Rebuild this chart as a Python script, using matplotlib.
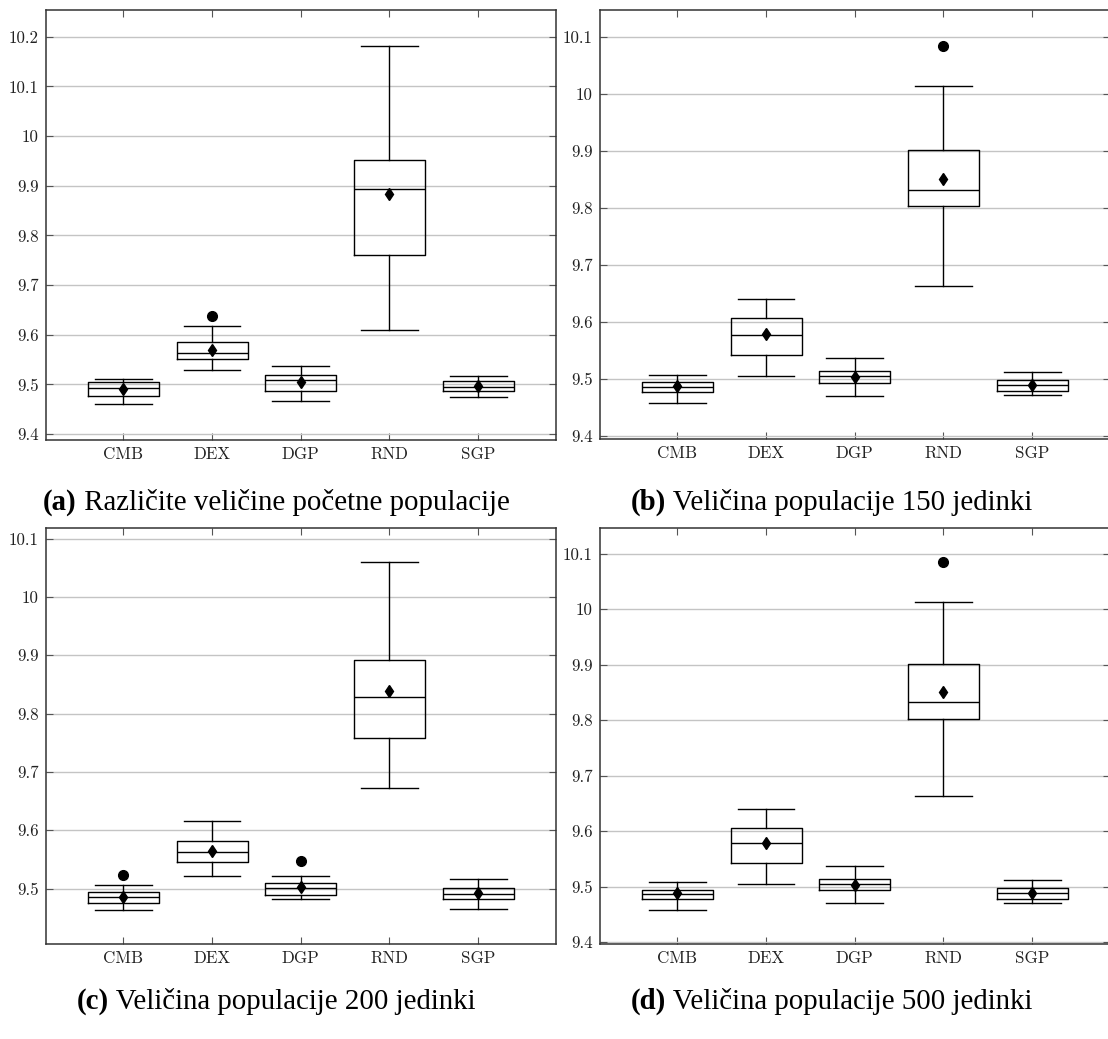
import matplotlib
matplotlib.use('Agg')
import matplotlib.pyplot as plt

categories = ['CMB', 'DEX', 'DGP', 'RND', 'SGP']

# (a) razlicite velicine pocetne populacije
a_low = [9.460, 9.529, 9.466, 9.609, 9.474]
a_q1 = [9.476, 9.551, 9.486, 9.760, 9.487]
a_med = [9.492, 9.564, 9.508, 9.893, 9.494]
a_q3 = [9.504, 9.585, 9.518, 9.951, 9.506]
a_high = [9.511, 9.617, 9.538, 10.181, 9.516]
a_mean = [9.491, 9.570, 9.504, 9.883, 9.496]
a_out = [[], [9.638], [], [], []]

# (b) 150 jedinki
b_low = [9.457, 9.504, 9.470, 9.663, 9.471]
b_q1 = [9.477, 9.542, 9.493, 9.803, 9.478]
b_med = [9.486, 9.577, 9.505, 9.831, 9.488]
b_q3 = [9.494, 9.606, 9.513, 9.901, 9.497]
b_high = [9.507, 9.639, 9.537, 10.013, 9.512]
b_mean = [9.487, 9.578, 9.503, 9.851, 9.489]
b_out = [[], [], [], [10.084], []]

# (c) 200 jedinki
c_low = [9.463, 9.521, 9.482, 9.672, 9.465]
c_q1 = [9.475, 9.546, 9.489, 9.758, 9.482]
c_med = [9.485, 9.563, 9.501, 9.829, 9.490]
c_q3 = [9.494, 9.582, 9.510, 9.892, 9.501]
c_high = [9.506, 9.615, 9.521, 10.059, 9.516]
c_mean = [9.486, 9.565, 9.502, 9.839, 9.492]
c_out = [[9.524], [], [9.548], [], []]

# (d) 500 jedinki
d_low = [9.458, 9.505, 9.470, 9.664, 9.471]
d_q1 = [9.478, 9.543, 9.494, 9.803, 9.478]
d_med = [9.487, 9.578, 9.505, 9.832, 9.488]
d_q3 = [9.495, 9.606, 9.514, 9.902, 9.497]
d_high = [9.508, 9.640, 9.537, 10.013, 9.512]
d_mean = [9.488, 9.578, 9.503, 9.851, 9.489]
d_out = [[], [], [], [10.084], []]

panels = [
    ('(a)', 'Različite veličine početne populacije',
     (a_low, a_q1, a_med, a_q3, a_high, a_mean, a_out), (9.388, 10.254), [9.4, 9.5, 9.6, 9.7, 9.8, 9.9, 10.0, 10.1, 10.2]),
    ('(b)', 'Veličina populacije 150 jedinki',
     (b_low, b_q1, b_med, b_q3, b_high, b_mean, b_out), (9.394, 10.147), [9.4, 9.5, 9.6, 9.7, 9.8, 9.9, 10.0, 10.1]),
    ('(c)', 'Veličina populacije 200 jedinki',
     (c_low, c_q1, c_med, c_q3, c_high, c_mean, c_out), (9.405, 10.118), [9.5, 9.6, 9.7, 9.8, 9.9, 10.0, 10.1]),
    ('(d)', 'Veličina populacije 500 jedinki',
     (d_low, d_q1, d_med, d_q3, d_high, d_mean, d_out), (9.397, 10.146), [9.4, 9.5, 9.6, 9.7, 9.8, 9.9, 10.0, 10.1]),
]

W, H = 1108, 1039
fig = plt.figure(figsize=(W / 100, H / 100), dpi=100)

# axes boxes in pixels: left, top, right, bottom
boxes = [(45.5, 10, 556, 440), (599.5, 10, 1110, 439),
         (45.5, 528, 556, 944), (599.5, 528, 1110, 944)]
# caption centre x and baseline y in pixels
caption_pos = [(276.5, 510), (831.5, 510), (276.5, 1009), (831.5, 1009)]

tick_font = 'cmr10'


def fmt(v):
    s = '%.1f' % v
    return '10' if s == '10.0' else s


for (tag, title, stats, ylim, yticks), (l, t, r, b), (cx, cy) in zip(panels, boxes, caption_pos):
    ax = fig.add_axes([l / W, 1 - b / H, (r - l) / W, (b - t) / H])
    low, q1, med, q3, high, mean, out = stats
    bstats = []
    for i in range(len(categories)):
        bstats.append({'whislo': low[i], 'q1': q1[i], 'med': med[i], 'q3': q3[i],
                       'whishi': high[i], 'mean': mean[i], 'fliers': out[i],
                       'label': categories[i]})
    ax.bxp(bstats, positions=range(1, 6), widths=0.8, capwidths=0.64,
           showmeans=True,
           boxprops=dict(color='black', linewidth=1.0),
           medianprops=dict(color='black', linewidth=1.0),
           whiskerprops=dict(color='black', linewidth=1.0),
           capprops=dict(color='black', linewidth=1.0),
           meanprops=dict(marker='d', markerfacecolor='black', markeredgecolor='black', markersize=6.5),
           flierprops=dict(marker='o', markerfacecolor='black', markeredgecolor='black', markersize=7))
    ax.set_xlim(0.122, 5.878)
    ax.set_ylim(*ylim)
    ax.set_yticks(yticks)
    ax.set_yticklabels([fmt(v) for v in yticks], fontfamily=tick_font, fontsize=12.2)
    ax.set_xticks(range(1, 6))
    ax.set_xticklabels(categories, fontfamily=tick_font, fontsize=12.2)
    ax.yaxis.grid(True, color='#c4c4c4', linewidth=1.0)
    ax.set_axisbelow(True)
    ax.tick_params(direction='in', top=True, right=True, length=5, width=0.8,
                   color='#555555', labelcolor='#222222', pad=5)
    for s in ax.spines.values():
        s.set_color('#333333')
        s.set_linewidth(1.1)

    # caption: bold tag plus regular text, centred together
    t1 = fig.text(0, 1 - cy / H, tag, fontfamily='Liberation Serif', fontweight='bold',
                  fontsize=20.8, va='baseline', ha='left')
    t2 = fig.text(0, 1 - cy / H, ' ' + title, fontfamily='Liberation Serif',
                  fontsize=20.8, va='baseline', ha='left')
    rend = fig.canvas.get_renderer()
    w1 = t1.get_window_extent(rend).width
    w2 = t2.get_window_extent(rend).width
    x0 = cx - (w1 + w2) / 2
    t1.set_x(x0 / W)
    t2.set_x((x0 + w1) / W)

fig.savefig('out.png', dpi=100)
